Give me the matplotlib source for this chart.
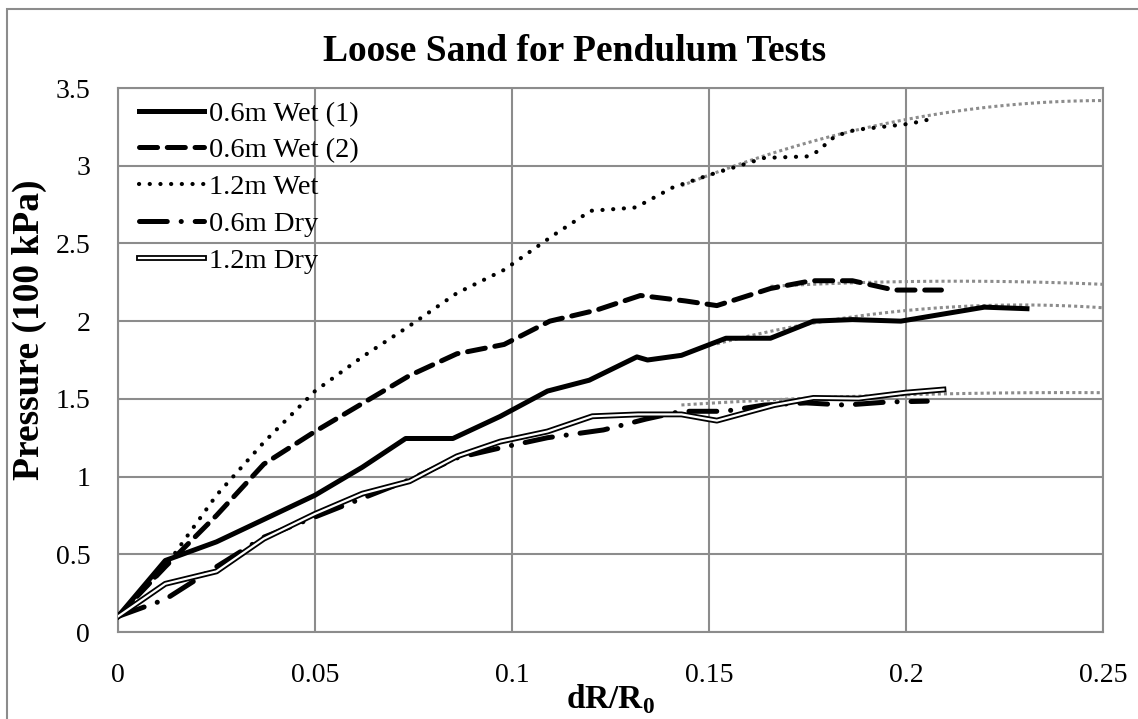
import matplotlib
matplotlib.use("Agg")
import matplotlib.pyplot as plt
import matplotlib.patheffects as pe
import numpy as np

plt.rcParams['font.family'] = ['Liberation Serif', 'DejaVu Serif']
plt.rcParams['mathtext.fontset'] = 'custom'
plt.rcParams['mathtext.rm'] = 'Liberation Serif'
plt.rcParams['mathtext.bf'] = 'Liberation Serif:bold'
plt.rcParams['lines.scale_dashes'] = False

# 0.6m Wet (1)
x_wet1 = [0, 0.012, 0.025, 0.05, 0.062, 0.073, 0.085, 0.097, 0.109, 0.1196,
          0.1317, 0.1344, 0.143, 0.1543, 0.1656, 0.1765, 0.1864, 0.1987, 0.2199, 0.2307]
y_wet1 = [0.10, 0.46, 0.58, 0.88, 1.06, 1.245, 1.245, 1.387, 1.55, 1.62,
          1.77, 1.75, 1.78, 1.89, 1.89, 2.0, 2.01, 2.0, 2.09, 2.08]

# 0.6m Wet (2)
x_wet2 = [0, 0.012, 0.025, 0.037, 0.05, 0.062, 0.074, 0.086, 0.098, 0.1096,
          0.1213, 0.1326, 0.144, 0.152, 0.1656, 0.176, 0.1864, 0.197, 0.209]
y_wet2 = [0.10, 0.42, 0.75, 1.08, 1.29, 1.47, 1.65, 1.79, 1.85, 2.0,
          2.07, 2.165, 2.13, 2.10, 2.21, 2.26, 2.26, 2.20, 2.20]

# 1.2m Wet
x_wet3 = [0, 0.012, 0.025, 0.037, 0.05, 0.062, 0.074, 0.086, 0.098, 0.1107,
          0.12, 0.131, 0.1335, 0.1408, 0.150, 0.159, 0.164, 0.175, 0.1774,
          0.182, 0.187, 0.201, 0.2063]
y_wet3 = [0.10, 0.42, 0.88, 1.22, 1.55, 1.77, 1.97, 2.18, 2.33, 2.556,
          2.71, 2.73, 2.76, 2.86, 2.94, 3.01, 3.05, 3.06, 3.09,
          3.19, 3.23, 3.27, 3.30]

# 0.6m Dry
x_dry1 = [0, 0.012, 0.025, 0.037, 0.05, 0.062, 0.074, 0.086, 0.098, 0.109,
          0.1232, 0.134, 0.143, 0.154, 0.164, 0.1747, 0.1846, 0.1955, 0.2054]
y_dry1 = [0.10, 0.21, 0.42, 0.61, 0.74, 0.86, 0.98, 1.12, 1.19, 1.25,
          1.30, 1.37, 1.42, 1.42, 1.46, 1.474, 1.46, 1.48, 1.485]

# 1.2m Dry
x_dry2 = [0, 0.012, 0.025, 0.037, 0.05, 0.062, 0.074, 0.086, 0.097, 0.109,
          0.1204, 0.132, 0.143, 0.149, 0.152, 0.1665, 0.1765, 0.188, 0.2, 0.2095]
y_dry2 = [0.10, 0.31, 0.39, 0.60, 0.76, 0.89, 0.97, 1.13, 1.225, 1.29,
          1.388, 1.40, 1.40, 1.373, 1.36, 1.46, 1.506, 1.502, 1.54, 1.56]

# trendlines (grey dotted)
x_tr_wet3 = [0.143, 0.165, 0.185, 0.206, 0.25]
y_tr_wet3 = [2.87, 3.07, 3.22, 3.32, 3.42]
x_tr_wet2 = [0.1656, 0.2, 0.225, 0.25]
y_tr_wet2 = [2.225, 2.25, 2.26, 2.235]
x_tr_wet1 = [0.152, 0.165, 0.177, 0.2, 0.22, 0.25]
y_tr_wet1 = [1.85, 1.93, 2.0, 2.07, 2.09, 2.09]
x_tr_dry = [0.143, 0.17, 0.2, 0.25]
y_tr_dry = [1.46, 1.50, 1.525, 1.54]

W, H = 1138, 719
fig = plt.figure(figsize=(W/100, H/100), dpi=100)
ax = fig.add_axes([118/W, 1-632/H, (1103-118)/W, (632-88)/H])

# chart area border (only top and left visible)
fig.patches.append(plt.Rectangle((7/W, -0.1), 1.2, 1-9/H+0.1, transform=fig.transFigure,
                                 fill=False, edgecolor='#8c8c8c', linewidth=1.5))

grey = '#8c8c8c'
for xs, ys in [(x_tr_wet3, y_tr_wet3), (x_tr_wet2, y_tr_wet2),
               (x_tr_wet1, y_tr_wet1), (x_tr_dry, y_tr_dry)]:
    # smooth the trendline through its read points
    c = np.polyfit(xs, ys, 2)
    xx = np.linspace(xs[0], xs[-1], 100)
    ax.plot(xx, np.polyval(c, xx), color=grey, lw=2.2, dashes=(2.2, 2.2),
            dash_capstyle='butt', zorder=2)

ax.plot(x_wet1, y_wet1, color='black', lw=3.6, label='0.6m Wet (1)', zorder=3,
        solid_joinstyle='round')
ax.plot(x_wet2, y_wet2, color='black', lw=3.6, dashes=(13, 7), dash_capstyle='round',
        label='0.6m Wet (2)', zorder=3)
ax.plot(x_wet3, y_wet3, color='black', lw=3.0, dashes=(0.1, 7.6), dash_capstyle='round',
        label='1.2m Wet', zorder=3)
ax.plot(x_dry1, y_dry1, color='black', lw=3.6, dashes=(20, 10, 0.1, 10), dash_capstyle='round',
        label='0.6m Dry', zorder=3)
ax.plot(x_dry2, y_dry2, color='white', lw=1.6, label='1.2m Dry', zorder=3,
        path_effects=[pe.Stroke(linewidth=4.2, foreground='black'), pe.Normal()])

ax.set_xlim(0, 0.25)
ax.set_ylim(0, 3.5)
ax.set_xticks([0, 0.05, 0.1, 0.15, 0.2, 0.25])
ax.set_xticklabels(['0', '0.05', '0.1', '0.15', '0.2', '0.25'])
ax.set_yticks([0, 0.5, 1, 1.5, 2, 2.5, 3, 3.5])
ax.set_yticklabels(['0', '0.5', '1', '1.5', '2', '2.5', '3', '3.5'])
ax.grid(True, color='#8c8c8c', lw=1.5)
ax.set_axisbelow(True)
for s in ax.spines.values():
    s.set_color('#8c8c8c')
    s.set_linewidth(1.5)
ax.tick_params(length=0, labelsize=20, colors='black')
ax.tick_params(axis='x', pad=22)
ax.tick_params(axis='y', pad=20)

# title is centred on the chart area, not on the plot
fig.text(575/W, 1-61/H, 'Loose Sand for Pendulum Tests', fontsize=27, fontweight='bold',
         ha='center', va='baseline')
ax.set_xlabel('dR/R$_\\mathbf{0}$', fontsize=24, fontweight='bold', labelpad=-4)
fig.text(29/W, 1-330/H, 'Pressure (100 kPa)', fontsize=27, fontweight='bold',
         rotation=90, ha='center', va='center')

leg = ax.legend(loc='upper left', bbox_to_anchor=(0.004, 1.008), frameon=False,
                fontsize=20.5, handlelength=2.28, handletextpad=0.18,
                labelspacing=0.38, borderaxespad=0.2)

fig.savefig('out.png', dpi=100)
